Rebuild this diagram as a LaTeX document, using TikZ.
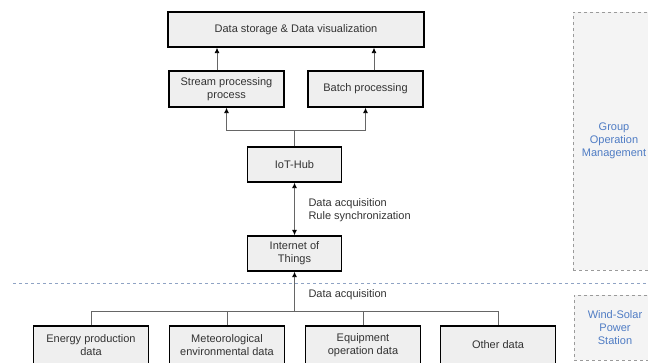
\documentclass[tikz,border=0pt]{standalone}
\usepackage{fontspec}
\setmainfont{Liberation Sans}
\usetikzlibrary{arrows.meta}

\definecolor{txtgray}{HTML}{333333}
\definecolor{boxfill}{HTML}{EFEFEF}
\definecolor{grpfill}{HTML}{F4F4F4}
\definecolor{grpline}{HTML}{9A9A9A}
\definecolor{sepline}{HTML}{8FA3C4}
\definecolor{lblblue}{HTML}{4F7CC4}

\tikzset{
  caja/.style={draw=black, line width=1.3pt, fill=boxfill, text=txtgray, align=center,
    inner sep=0pt, minimum width=115pt, minimum height=36pt},
  grupo/.style={draw=grpline, dashed, line width=0.8pt, fill=grpfill, text=lblblue,
    align=center, inner sep=0pt},
  linea/.style={draw=gray!80!black, line width=0.9pt},
  flecha/.style={linea, -{Latex[length=5.5pt,width=5pt,color=black]}},
  doble/.style={linea, {Latex[length=5.5pt,width=5pt,color=black]}-{Latex[length=5.5pt,width=5pt,color=black]}},
}

\begin{document}
\begin{tikzpicture}[x=1pt, y=-1pt, font=\fontsize{11}{13}\selectfont]
        \useasboundingbox (0,0) rectangle (648,362);
        \clip (0,0) rectangle (648,362);

        % grupos
        \node[grupo, minimum width=82pt, minimum height=258pt] (GOM) at (614,141) {Group\\Operation\\Management};
        \node[grupo, minimum width=82pt, minimum height=65pt] (WSP) at (615,327.5) {Wind-Solar\\Power\\Station};
        \draw[sepline, dashed, line width=0.8pt] (13,283) -- (660,283);

        % procesamiento
        \node[caja, minimum width=256pt, minimum height=35pt] (DS) at (296,29.5) {Data storage \& Data visualization};
        \node[caja] (SP) at (226.5,89) {Stream processing\\process};
        \node[caja] (BP) at (365.5,89) {Batch processing};
        \draw[flecha] ([xshift=-9.5pt]SP.north) -- ([xshift=-9.5pt]SP.north |- DS.south);
        \draw[flecha] ([xshift=8.5pt]BP.north) -- ([xshift=8.5pt]BP.north |- DS.south);

        % hub
        \node[caja, minimum width=94pt, minimum height=35pt] (HUB) at (294.5,164.5) {IoT-Hub};
        \coordinate (split) at (294.5,130);
        \draw[linea] (HUB.north) -- (split);
        \draw[flecha] (split) -| (SP.south);
        \draw[flecha] (split) -| (BP.south);

        % internet de las cosas
        \node[caja, minimum width=94pt, minimum height=35pt] (IOT) at (294.5,253.5) {Internet of\\Things};
        \draw[doble] (HUB.south) -- (IOT.north);
        \node[anchor=west, align=left, text=txtgray] (SYNC) at (305,210.5) {Data acquisition\\Rule synchronization};

        % datos de la central
        \foreach \x/\nombre/\texto in {91/EP/{Energy production\\data}, 227/MD/{Meteorological\\environmental data},
                                       363/EO/{Equipment\\operation data}, 498/OD/{Other data}}
          \node[caja, minimum height=38pt] (\nombre) at (\x,345) {\texto};

        \coordinate (bus) at (294.5,311);
        \draw[linea] (EP.north) -- (EP.north |- bus) -- (OD.north |- bus) -- (OD.north);
        \draw[linea] (MD.north) -- (MD.north |- bus);
        \draw[linea] (EO.north) -- (EO.north |- bus);
        \draw[flecha] (bus) -- (IOT.south);
        \node[anchor=west, text=txtgray] (ACQ) at (305,295) {Data acquisition};

      \end{tikzpicture}
\end{document}
